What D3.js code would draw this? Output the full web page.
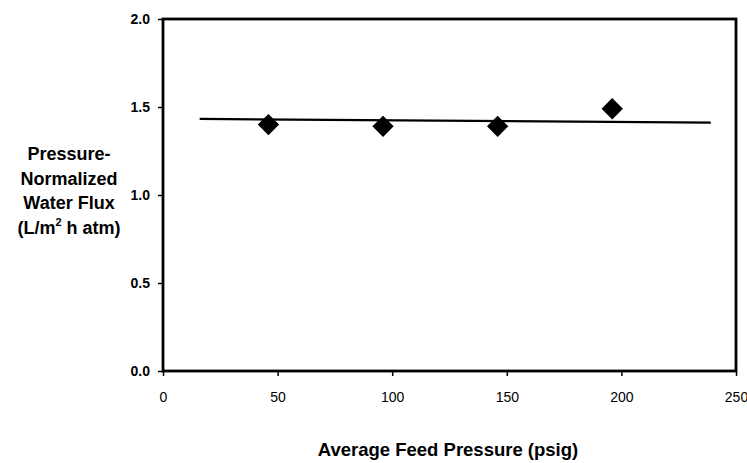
<!DOCTYPE html>
<html>
<head>
<meta charset="utf-8">
<script src="https://cdn.jsdelivr.net/npm/d3@7/dist/d3.min.js"></script>
<style>
  body { margin: 0; background: #fff; }
  text { font-family: "Liberation Sans", Arial, sans-serif; fill: #000; }
</style>
</head>
<body>
<svg width="747" height="463"></svg>
<script>
// Data
const pressure = [46, 96, 146, 196];
const flux = [1.40, 1.39, 1.39, 1.49];
const fitLine = [[16, 1.432], [239, 1.411]];
const xTicks = [0, 50, 100, 150, 200, 250];
const yTicks = [0.0, 0.5, 1.0, 1.5, 2.0];
const yLabelLines = ["Pressure-", "Normalized", "Water Flux"];

const svg = d3.select("svg");
const plotLeft = 163, plotRight = 736, plotTop = 19, plotBottom = 371;

//Scales
const x = d3.scaleLinear().domain([0, 250]).range([plotLeft, plotRight]);
const y = d3.scaleLinear().domain([0, 2]).range([plotBottom, plotTop]);

//Plot frame
svg.append("rect")
    .attr("x", plotLeft).attr("y", plotTop)
    .attr("width", plotRight - plotLeft).attr("height", plotBottom - plotTop)
    .attr("fill", "none").attr("stroke", "#000").attr("stroke-width", 2.8);

//Y axis
const yAxis = svg.append("g")
    .attr("transform", `translate(${plotLeft}, 0)`)
    .call(d3.axisLeft(y).tickValues(yTicks).tickFormat(d3.format(".1f")).tickSize(5).tickPadding(8));
yAxis.select(".domain").remove();
yAxis.selectAll("line").attr("stroke-width", 1.5);
yAxis.selectAll("text").attr("font-size", "14px").attr("font-weight", "bold");

//X axis
const xAxis = svg.append("g")
    .attr("transform", `translate(0, ${plotBottom})`)
    .call(d3.axisBottom(x).tickValues(xTicks).tickSize(5).tickPadding(16));
xAxis.select(".domain").remove();
xAxis.selectAll("line").attr("stroke-width", 1.5);
xAxis.selectAll("text").attr("font-size", "14px");

//Fit line
svg.append("path")
    .attr("d", d3.line().x(d => x(d[0])).y(d => y(d[1]))(fitLine))
    .attr("fill", "none").attr("stroke", "#000").attr("stroke-width", 2.2);

//Diamond markers
svg.selectAll(".pt")
    .data(pressure.map((p, i) => [p, flux[i]]))
    .enter()
    .append("path")
    .attr("class", "pt")
    .attr("transform", d => `translate(${x(d[0])}, ${y(d[1])})`)
    .attr("d", d3.symbol(d3.symbolDiamond2, 290)())
    .attr("fill", "#000");

//Y axis label
const yl = svg.append("text")
    .attr("text-anchor", "middle")
    .attr("font-size", "18px")
    .attr("font-weight", "bold");
yLabelLines.forEach((t, i) => {
    yl.append("tspan").attr("x", 69).attr("y", 160 + i * 24.5).text(t);
});
const last = yl.append("tspan").attr("x", 69).attr("y", 233.5).text("(L/m");
last.append("tspan").attr("font-size", "11px").attr("dy", -8).text("2");
last.append("tspan").attr("dy", 8).text(" h atm)");

//X axis label
svg.append("text")
    .attr("x", 448).attr("y", 456)
    .attr("text-anchor", "middle")
    .attr("font-size", "18.5px")
    .attr("font-weight", "bold")
    .text("Average Feed Pressure (psig)");
</script>
</body>
</html>
